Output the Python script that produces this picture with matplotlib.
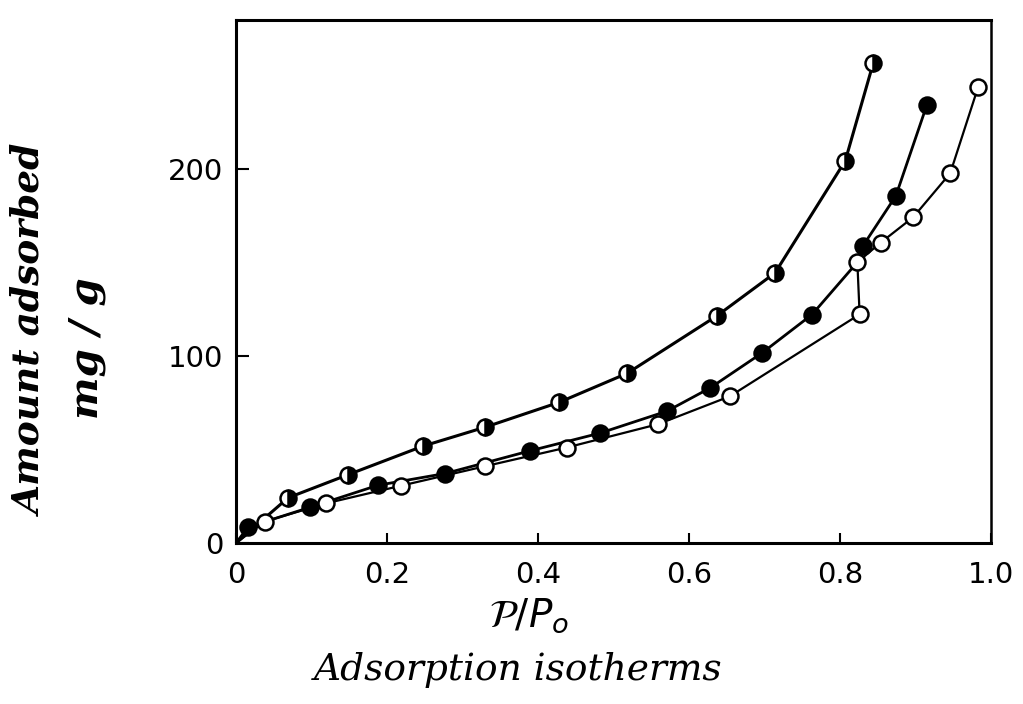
import matplotlib
matplotlib.use("Agg")
import matplotlib.pyplot as plt

##### Data (P/P0, mg/g)
### half-filled circles
half_x = [0.0, 0.069, 0.148, 0.248, 0.330, 0.428, 0.518, 0.637, 0.714, 0.807, 0.844]
half_y = [0.0, 24.2, 36.5, 51.9, 62.0, 75.3, 90.8, 121.6, 144.6, 204.6, 256.8]

### filled circles
full_x = [0.0, 0.016, 0.098, 0.188, 0.277, 0.389, 0.482, 0.571, 0.628, 0.697, 0.763, 0.823, 0.830, 0.874, 0.915]
full_y = [0.0, 8.5, 19.1, 30.9, 37.2, 49.3, 58.8, 70.6, 83.0, 101.8, 122.3, 150.3, 158.8, 185.8, 234.4]
full_mark = [1, 2, 3, 4, 5, 6, 7, 8, 9, 10, 12, 13, 14]

### open circles (lower branch, step at P/P0 ~ 0.82, upper branch)
open_x = [0.0, 0.038, 0.119, 0.219, 0.330, 0.438, 0.559, 0.654, 0.826, 0.823, 0.854, 0.897, 0.946, 0.983]
open_y = [0.0, 11.5, 21.2, 30.7, 41.1, 51.1, 63.6, 78.5, 122.4, 150.3, 160.8, 174.4, 197.9, 244.1]

x_ticks = [0, 0.2, 0.4, 0.6, 0.8, 1.0]
x_tick_labels = ["0", "0.2", "0.4", "0.6", "0.8", "1.0"]
y_ticks = [0, 100, 200]
y_tick_labels = ["0", "100", "200"]


##### Figure
fig = plt.figure(figsize=(10.23, 7.04), dpi=100)
ax = fig.add_axes([0.2307, 0.2287, 0.738, 0.743])

# curves
ax.plot(half_x, half_y, color="black", lw=2.2, zorder=2)
ax.plot(full_x, full_y, color="black", lw=2.0, zorder=2)
ax.plot(open_x, open_y, color="black", lw=1.6, zorder=2)

# markers
ax.plot(half_x[1:], half_y[1:], ls="none", marker="o", ms=11.5, mew=1.8,
        mec="black", mfc="black", fillstyle="right", markerfacecoloralt="white", zorder=3)
ax.plot([full_x[i] for i in full_mark], [full_y[i] for i in full_mark], ls="none",
        marker="o", ms=11.5, mew=1.8, mec="black", mfc="black", zorder=3)
ax.plot(open_x[1:], open_y[1:], ls="none", marker="o", ms=11.5, mew=1.8,
        mec="black", mfc="white", zorder=3)

ax.set_xlim(0, 1.0)
ax.set_ylim(0, 280)

ax.spines["top"].set_linewidth(2.2)
ax.spines["right"].set_linewidth(1.8)
ax.spines["left"].set_linewidth(2.2)
ax.spines["bottom"].set_linewidth(2.2)

ax.set_xticks(x_ticks)
ax.set_xticklabels(x_tick_labels, fontsize=21, family="DejaVu Sans")
ax.set_yticks(y_ticks)
ax.set_yticklabels(y_tick_labels, fontsize=21, family="DejaVu Sans")
ax.tick_params(axis="x", direction="in", length=7, width=1.5, pad=13)
ax.tick_params(axis="y", direction="in", length=9, width=1.5, pad=9)

# axis labels
fig.text(0.030, 0.531, "Amount adsorbed", rotation=90, ha="center", va="center",
         fontsize=27, family="DejaVu Serif", style="italic", weight="bold")
fig.text(0.085, 0.506, "mg / g", rotation=90, ha="center", va="center",
         fontsize=29, family="DejaVu Serif", style="italic", weight="bold")
fig.text(0.517, 0.126, r"$\mathcal{P}/P_o$", ha="center", va="center",
         fontsize=28, family="DejaVu Serif", style="italic")
fig.text(0.507, 0.048, "Adsorption isotherms", ha="center", va="center",
         fontsize=27, family="DejaVu Serif", style="italic")

fig.savefig("out.png", dpi=100)
